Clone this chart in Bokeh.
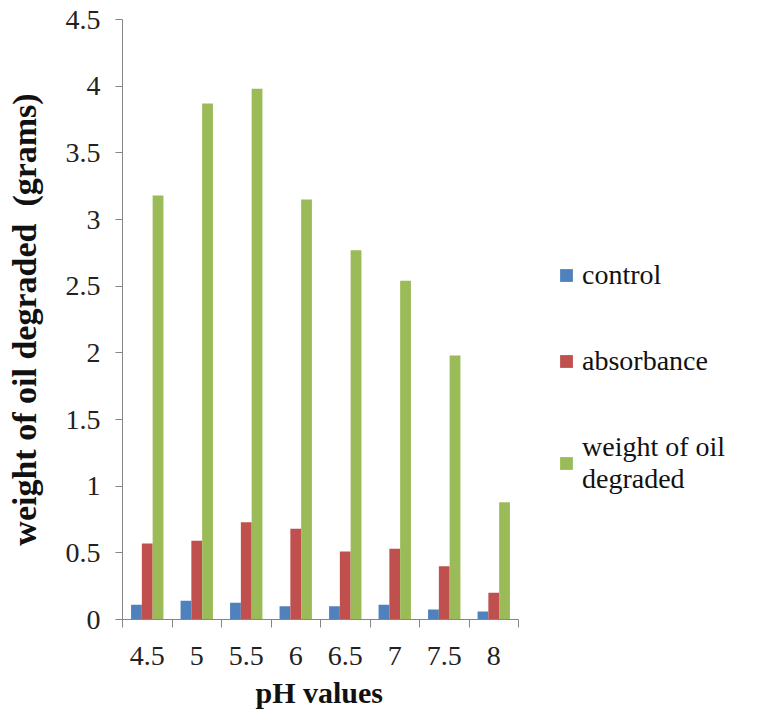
import numpy as np
from bokeh.plotting import figure
from bokeh.models import (ColumnDataSource, Range1d, FixedTicker, Legend, LegendItem, Title)
from bokeh.embed import file_html
from bokeh.resources import INLINE

ph_labels = ["4.5", "5", "5.5", "6", "6.5", "7", "7.5", "8"]
control = [0.11, 0.14, 0.125, 0.10, 0.10, 0.11, 0.075, 0.06]
absorbance = [0.57, 0.59, 0.73, 0.68, 0.51, 0.53, 0.40, 0.20]
weight = [3.18, 3.87, 3.98, 3.15, 2.77, 2.54, 1.98, 0.88]
y_ticks = [0, 0.5, 1, 1.5, 2, 2.5, 3, 3.5, 4, 4.5]
y_tick_labels = ["0", "0.5", "1", "1.5", "2", "2.5", "3", "3.5", "4", "4.5"]

series_names = ["control", "absorbance", "weight of oil\ndegraded"]
colors = ["#4F81BD", "#C0504D", "#9BBB59"]

n = len(ph_labels)
centers = np.arange(n) + 0.5
bw = 0.218
offsets = [-bw, 0.0, bw]

W, H = 762, 726
LEFT, TOP, BOTTOM = 122, 19, 107
AXIS_PX = 396  # pixel length of the category axis
frame_w = W - LEFT
x_end = n * frame_w / AXIS_PX

p = figure(width=W, height=H, output_backend="svg", toolbar_location=None,
           x_range=Range1d(0, x_end), y_range=Range1d(0, 4.5),
           min_border_left=LEFT, min_border_right=0, min_border_top=TOP,
           min_border_bottom=BOTTOM)
p.outline_line_color = None
p.xgrid.visible = False
p.ygrid.visible = False
p.background_fill_color = "white"
p.border_fill_color = "white"

renderers = []
for vals, off, col in zip([control, absorbance, weight], offsets, colors):
    src = ColumnDataSource(dict(x=centers + off, top=vals))
    r = p.vbar(x="x", top="top", bottom=0, width=bw, source=src,
               fill_color=col, line_color=None)
    renderers.append(r)

FONT = "Liberation Serif"
AX = "#868686"

# x axis
xa = p.xaxis[0]
xa.bounds = (0, n)
xa.ticker = FixedTicker(ticks=list(centers), minor_ticks=list(range(n + 1)))
xa.major_label_overrides = {float(c): lab for c, lab in zip(centers, ph_labels)}
xa.major_tick_line_color = None
xa.major_tick_out = 8
xa.major_tick_in = 0
xa.minor_tick_line_color = AX
xa.minor_tick_out = 8
xa.minor_tick_in = 0
xa.axis_line_color = AX
xa.major_label_text_font = FONT
xa.major_label_text_font_size = "28px"
xa.major_label_text_color = "#222222"
xa.major_label_standoff = 19

# x axis title, under the category axis
xt = Title(text="pH values", align="left", offset=133,
           text_font=FONT, text_font_size="30px", text_font_style="bold",
           text_color="#111111", standoff=13)
p.add_layout(xt, "below")

# y axis
ya = p.yaxis[0]
ya.ticker = FixedTicker(ticks=y_ticks)
ya.major_label_overrides = {float(t): l for t, l in zip(y_ticks, y_tick_labels)}
ya.major_tick_line_color = AX
ya.major_tick_out = 7
ya.major_tick_in = 0
ya.minor_tick_line_color = None
ya.axis_line_color = AX
ya.major_label_text_font = FONT
ya.major_label_text_font_size = "28px"
ya.major_label_text_color = "#222222"
ya.major_label_standoff = 15
ya.axis_label = "weight of oil degraded\u00a0\u00a0(grams)"
ya.axis_label_text_font = FONT
ya.axis_label_text_font_size = "34px"
ya.axis_label_text_font_style = "bold"
ya.axis_label_text_color = "#111111"
ya.axis_label_standoff = 20

legend = Legend(items=[LegendItem(label=s, renderers=[r]) for s, r in zip(series_names, renderers)],
                location=(436, 124), orientation="vertical")
legend.border_line_color = None
legend.background_fill_alpha = 0
legend.label_text_font = "serif"
legend.label_text_font_size = "28px"
legend.label_text_color = "#111111"
legend.label_text_line_height = 1.3
legend.glyph_width = 16
legend.glyph_height = 16
legend.label_standoff = 8
legend.spacing = 54
legend.padding = 0
legend.margin = 0
legend.label_height = 30
p.add_layout(legend, "center")

open("out.html", "w").write(file_html(p, INLINE))
